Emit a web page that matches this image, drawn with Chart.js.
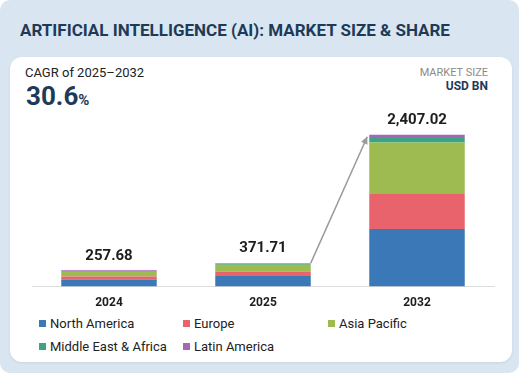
<!DOCTYPE html>
<html>
<head>
<meta charset="utf-8">
<script src="https://cdn.jsdelivr.net/npm/chart.js@4/dist/chart.umd.min.js"></script>
<style>
  html, body { margin: 0; padding: 0; background: #ffffff; }
  body { width: 519px; height: 373px; overflow: hidden; font-family: Roboto, "Noto Sans", sans-serif; }
  .panel { position: absolute; left: 0; top: 0; width: 519px; height: 373px; background: #d9e6f1; border-radius: 10px; }
  .title { position: absolute; left: 20px; top: 20px; font-size: 17px; font-weight: 700; color: #1f3a57; }
  .card { position: absolute; left: 10px; top: 57px; width: 502px; height: 305px; background: #fff; border-radius: 12px; box-shadow: 0 1px 3px rgba(0,0,0,0.08); }
  .cagr { position: absolute; left: 25px; top: 65px; font-size: 13px; color: #222; }
  .big { position: absolute; left: 26px; top: 81px; font-size: 26px; font-weight: 700; color: #1f3a57; }
  .big span { font-size: 15px; }
  .msize { position: absolute; right: 31px; top: 66px; font-size: 11px; color: #8a8a8a; text-align: right; }
  .usd { position: absolute; right: 31px; top: 79px; font-size: 12px; font-weight: 700; color: #1f3a57; text-align: right; }
  .chartbox { position: absolute; left: 0; top: 110px; width: 519px; height: 201px; }
  .legend { position: absolute; left: 39px; top: 315px; width: 440px; }
  .item { position: absolute; font-size: 13px; color: #222; white-space: nowrap; line-height: 18px; }
  .item i { display: inline-block; width: 7px; height: 7px; margin-right: 4px; vertical-align: 1px; }
</style>
</head>
<body>
<div class="panel"></div>
<div class="title">ARTIFICIAL INTELLIGENCE (AI): MARKET SIZE &amp; SHARE</div>
<div class="card"></div>
<div class="cagr">CAGR of 2025–2032</div>
<div class="big">30.6<span>%</span></div>
<div class="msize">MARKET SIZE</div>
<div class="usd">USD BN</div>
<div class="chartbox"><canvas id="chart"></canvas></div>
<div class="legend" id="legend"></div>
<script>
// values (USD BN)
const years = ["2024", "2025", "2032"];
const totals = [257.68, 371.71, 2407.02];
const regions = ["North America", "Europe", "Asia Pacific", "Middle East & Africa", "Latin America"];
const colors = ["#3a78b8", "#e8636b", "#9dbb50", "#3aa582", "#a466b8"];
const northAmerica = [112, 168, 914];
const europe = [50, 70, 553];
const asiaPacific = [75, 108, 818];
const middleEastAfrica = [12, 15, 70];
const latinAmerica = [8.68, 10.71, 52.02];
const series = [northAmerica, europe, asiaPacific, middleEastAfrica, latinAmerica];

// totals above stacks + arrow from 2025 to 2032
const topLabels = {
  id: "topLabels",
  afterDatasetsDraw(chart) {
    const ctx = chart.ctx;
    const last = chart.getDatasetMeta(series.length - 1).data;
    ctx.save();
    ctx.font = "bold 15px Roboto, sans-serif";
    ctx.fillStyle = "#1d1d1d";
    ctx.textAlign = "center";
    ctx.textBaseline = "bottom";
    last.forEach((bar, i) => {
      ctx.fillText(totals[i].toLocaleString("en-US", {minimumFractionDigits: 2}), bar.x, bar.y - 7);
    });
    const a = last[1], b = last[2];
    const x1 = a.x + a.width / 2, y1 = a.y;
    const x2 = b.x - b.width / 2 - 2, y2 = b.y + 2;
    ctx.strokeStyle = "#9a9a9a";
    ctx.fillStyle = "#9a9a9a";
    ctx.lineWidth = 1.5;
    ctx.beginPath();
    ctx.moveTo(x1, y1);
    ctx.lineTo(x2, y2);
    ctx.stroke();
    const ang = Math.atan2(y2 - y1, x2 - x1);
    ctx.beginPath();
    ctx.moveTo(x2, y2);
    ctx.lineTo(x2 - 8 * Math.cos(ang - 0.45), y2 - 8 * Math.sin(ang - 0.45));
    ctx.lineTo(x2 - 8 * Math.cos(ang + 0.45), y2 - 8 * Math.sin(ang + 0.45));
    ctx.closePath();
    ctx.fill();
    ctx.restore();
  }
};

new Chart(document.getElementById("chart").getContext("2d"), {
  type: "bar",
  data: {
    labels: years,
    datasets: regions.map((r, i) => ({
      label: r,
      data: series[i],
      backgroundColor: colors[i],
      barPercentage: 0.62,
      categoryPercentage: 1
    }))
  },
  options: {
    responsive: true,
    maintainAspectRatio: false,
    animation: false,
    layout: { padding: { left: 32, right: 25, top: 10, bottom: 0 } },
    plugins: { legend: { display: false }, tooltip: { enabled: false } },
    scales: {
      x: {
        stacked: true,
        grid: { display: false },
        border: { display: true, color: "#dddddd" },
        ticks: { color: "#1d1d1d", font: { family: "Roboto", size: 12, weight: "bold" }, padding: 1 }
      },
      y: { stacked: true, display: false, min: 0, max: 2640 }
    }
  },
  plugins: [topLabels]
});

// legend in three columns
const pos = [[0, 0], [144, 0], [289, 0], [0, 23], [144, 23]];
const legend = document.getElementById("legend");
regions.forEach((r, i) => {
  const d = document.createElement("div");
  d.className = "item";
  d.style.left = pos[i][0] + "px";
  d.style.top = pos[i][1] + "px";
  d.innerHTML = '<i style="background:' + colors[i] + '"></i>' + r;
  legend.appendChild(d);
});
</script>
</body>
</html>
